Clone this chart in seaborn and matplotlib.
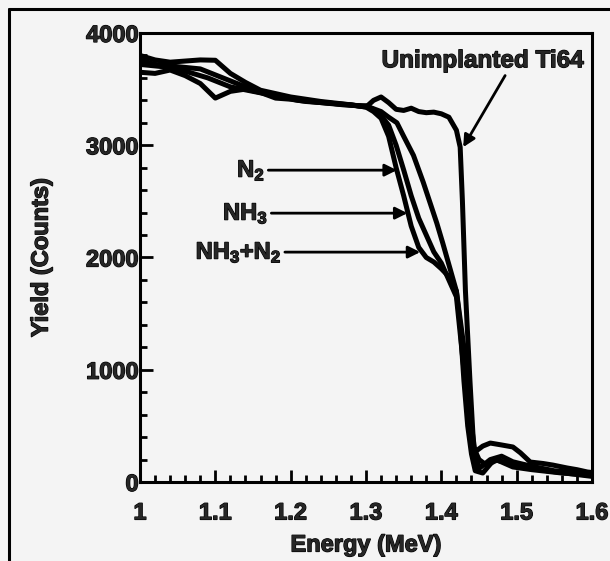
import pandas as pd
import seaborn as sns
import matplotlib.pyplot as plt
import matplotlib.patheffects as pe
from matplotlib.lines import Line2D
from matplotlib.ticker import MultipleLocator

ti64_e = [1.00, 1.02, 1.04, 1.06, 1.08, 1.10, 1.12, 1.14, 1.16, 1.18, 1.20, 1.22, 1.24, 1.26,
          1.28, 1.30, 1.31, 1.32, 1.33, 1.34, 1.35, 1.36, 1.37, 1.38, 1.39, 1.40, 1.41, 1.42,
          1.425, 1.428, 1.432, 1.438, 1.443, 1.447, 1.455, 1.465, 1.48, 1.495, 1.505, 1.518,
          1.535, 1.548, 1.567, 1.58, 1.594, 1.60]
ti64_y = [3800, 3760, 3740, 3750, 3760, 3757, 3640, 3560, 3490, 3460, 3430, 3410, 3390, 3375,
          3360, 3340, 3400, 3430, 3380, 3320, 3310, 3330, 3300, 3290, 3295, 3280, 3250, 3134,
          2983, 2500, 1700, 900, 300, 280, 320, 347, 330, 312, 260, 178,
          165, 151, 125, 110, 89, 85]

n2_e = [1.00, 1.02, 1.04, 1.06, 1.08, 1.10, 1.12, 1.14, 1.16, 1.18, 1.20, 1.22, 1.24, 1.26,
        1.28, 1.30, 1.31, 1.32, 1.33, 1.34, 1.35, 1.36, 1.37, 1.38, 1.39, 1.40, 1.41, 1.42,
        1.425, 1.43, 1.435, 1.44, 1.445, 1.455, 1.47, 1.50, 1.54, 1.60]
n2_y = [3650, 3640, 3670, 3620, 3550, 3420, 3480, 3500, 3470, 3420, 3410, 3390, 3380, 3370,
        3360, 3340, 3300, 3240, 3080, 2800, 2550, 2280, 2090, 2000, 1960, 1900, 1830, 1700,
        1400, 900, 500, 250, 100, 80, 200, 150, 100, 50]

nh3_e = [1.00, 1.03, 1.06, 1.09, 1.12, 1.15, 1.18, 1.21, 1.24, 1.27, 1.30, 1.31, 1.32, 1.33,
         1.34, 1.35, 1.36, 1.37, 1.38, 1.39, 1.40, 1.41, 1.42, 1.43, 1.44, 1.45, 1.46, 1.474,
         1.495, 1.52, 1.56, 1.60]
nh3_y = [3720, 3700, 3660, 3600, 3520, 3480, 3440, 3400, 3380, 3360, 3350, 3320, 3260, 3180,
         3000, 2780, 2550, 2350, 2200, 2050, 1950, 1800, 1650, 1000, 350, 200, 150, 196,
         134, 110, 80, 60]

mix_e = [1.00, 1.02, 1.05, 1.08, 1.11, 1.14, 1.17, 1.20, 1.23, 1.26, 1.29, 1.30, 1.32, 1.33,
         1.341, 1.35, 1.363, 1.376, 1.394, 1.402, 1.412, 1.42, 1.43, 1.44, 1.445, 1.45, 1.465,
         1.48, 1.495, 1.52, 1.55, 1.60]
mix_y = [3760, 3720, 3700, 3680, 3600, 3520, 3460, 3420, 3390, 3370, 3350, 3350, 3300, 3250,
         3200, 3080, 2910, 2670, 2306, 2126, 1890, 1700, 1200, 500, 250, 120, 200,
         230, 180, 140, 100, 70]

frames = []
for name, e, y in [("Ti64", ti64_e, ti64_y), ("N2", n2_e, n2_y),
                   ("NH3", nh3_e, nh3_y), ("NH3+N2", mix_e, mix_y)]:
    frames.append(pd.DataFrame({"Energy": e, "Yield": y, "sample": name}))
df = pd.concat(frames, ignore_index=True)

sns.set_theme(style="ticks")
plt.rcParams['font.family'] = ['Liberation Sans', 'DejaVu Sans']
plt.rcParams['font.weight'] = 'bold'
plt.rcParams['mathtext.fontset'] = 'custom'
plt.rcParams['mathtext.rm'] = 'Liberation Sans:bold'
plt.rcParams['mathtext.it'] = 'Liberation Sans:bold'
plt.rcParams['mathtext.bf'] = 'Liberation Sans:bold'

bg = '#f4f4f4'
heavy = [pe.withStroke(linewidth=0.9, foreground='black')]

fig = plt.figure(figsize=(6.1, 5.61), dpi=100, facecolor=bg)
ax = fig.add_axes([0.2295, 0.1408, 0.741, 0.8004])
ax.set_facecolor(bg)

sns.lineplot(data=df, x="Energy", y="Yield", hue="sample", units="sample", estimator=None,
             sort=False, palette=["black"] * 4, linewidth=3.6, legend=False, ax=ax)

ax.set_xlim(1.0, 1.6)
ax.set_ylim(0, 4000)
ax.set_xticks([1.0, 1.1, 1.2, 1.3, 1.4, 1.5, 1.6])
ax.set_xticklabels(["1", "1.1", "1.2", "1.3", "1.4", "1.5", "1.6"])
ax.set_yticks([0, 1000, 2000, 3000, 4000])
ax.xaxis.set_minor_locator(MultipleLocator(0.02))
ax.yaxis.set_minor_locator(MultipleLocator(200))
ax.tick_params(which='both', direction='in', width=2, labelsize=17, color='black',
               top=False, right=False)
ax.tick_params(which='major', length=9)
ax.tick_params(which='minor', length=5)
ax.tick_params(axis='x', which='major', pad=14)
ax.tick_params(axis='y', which='major', pad=1)
for lab in ax.get_xticklabels() + ax.get_yticklabels():
    lab.set_fontweight('bold')
    lab.set_path_effects(heavy)
for s in ax.spines.values():
    s.set_linewidth(2.2)
    s.set_color('black')

ax.set_xlabel("Energy (MeV)", fontsize=17, fontweight='bold', labelpad=6.5,
              path_effects=heavy)
ax.set_ylabel("Yield (Counts)", fontsize=17, fontweight='bold', labelpad=24,
              path_effects=heavy)

arrow = dict(arrowstyle='-|>', color='black', lw=2, mutation_scale=18, shrinkA=0, shrinkB=0)
ax.annotate("Unimplanted Ti64", xy=(1.429, 2983), xytext=(1.455, 3650),
            fontsize=17.5, fontweight='bold', ha='center', va='bottom',
            arrowprops=dict(arrow, relpos=(0.62, 0)), path_effects=heavy)
ax.annotate(r"N$_2$", xy=(1.341, 2778), xytext=(1.166, 2778),
            fontsize=17, fontweight='bold', ha='right', va='center', arrowprops=arrow,
            path_effects=heavy)
ax.annotate(r"NH$_3$", xy=(1.355, 2395), xytext=(1.170, 2395),
            fontsize=17, fontweight='bold', ha='right', va='center', arrowprops=arrow,
            path_effects=heavy)
ax.annotate(r"NH$_3$+N$_2$", xy=(1.372, 2048), xytext=(1.188, 2048),
            fontsize=17, fontweight='bold', ha='right', va='center', arrowprops=arrow,
            path_effects=heavy)

# scan frame (left and top edges visible)
fig.add_artist(Line2D([9 / 610, 9 / 610], [0, 1 - 9 / 561], color='black', lw=2.2,
                      transform=fig.transFigure))
fig.add_artist(Line2D([9 / 610, 1], [1 - 9 / 561, 1 - 9 / 561], color='black', lw=2.2,
                      transform=fig.transFigure))

fig.savefig("out.png", dpi=100, facecolor=bg)
